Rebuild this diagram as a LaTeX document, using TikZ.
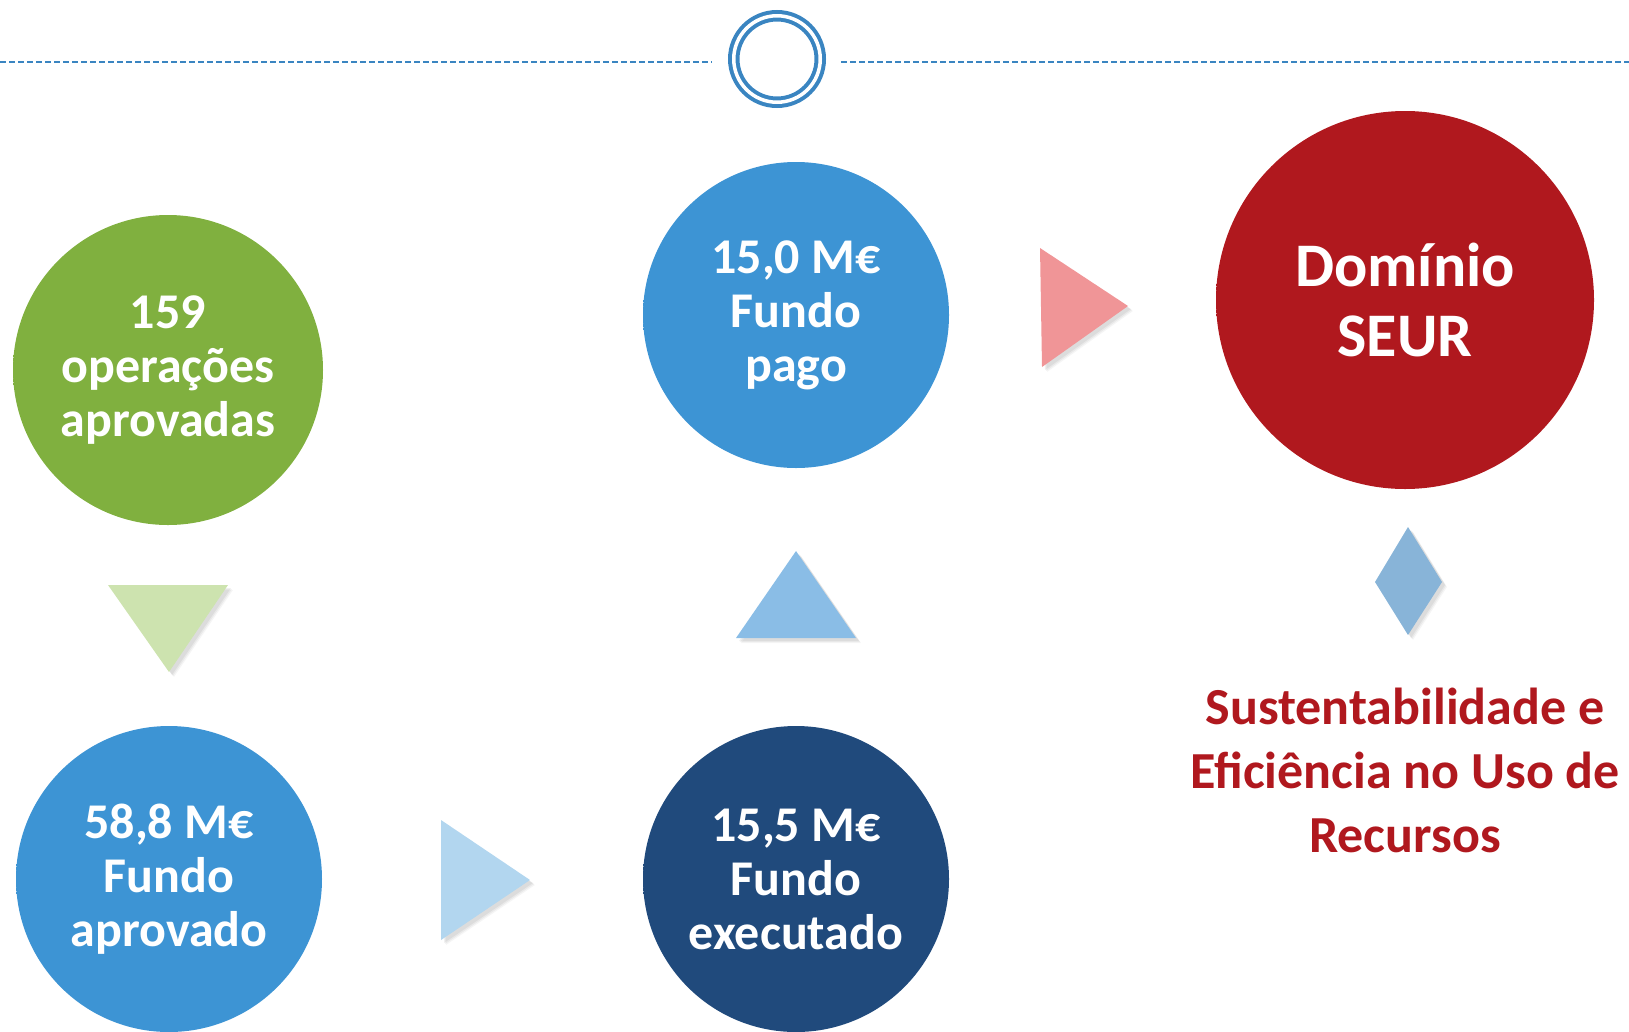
\documentclass[tikz,border=0pt]{standalone}
\usepackage{fontspec}
\setmainfont{Carlito}
\usetikzlibrary{shadows}

\definecolor{gruen}{HTML}{80B03F}
\definecolor{blau}{HTML}{3D94D4}
\definecolor{dunkelblau}{HTML}{204A7C}
\definecolor{rot}{HTML}{B0181E}
\definecolor{rosa}{HTML}{F09597}
\definecolor{hellblau}{HTML}{B2D6EF}
\definecolor{mittelblau}{HTML}{8ABDE6}
\definecolor{rautenblau}{HTML}{88B4D8}
\definecolor{hellgruen}{HTML}{CDE3AF}
\definecolor{linienblau}{HTML}{3A85C1}
\colorlet{randinnen}{blau}
\colorlet{randaussen}{blau}

\pgfdeclareradialshading[randinnen,randaussen]{rand}{\pgfpointorigin}{%
  color(0bp)=(randinnen); color(45bp)=(randinnen); color(50bp)=(randaussen)}

\tikzset{
  kreis/.style={circle, inner sep=0pt, minimum size=306pt, text=white, align=center,
    font=\bfseries\fontsize{50}{54}\selectfont,
    /utils/exec={\colorlet{randinnen}{#1}\colorlet{randaussen}{#1!65!black}},
    shading=rand},
  dreieck/.style={fill=#1,
    drop shadow={shadow xshift=5pt, shadow yshift=-5pt, opacity=0.08},
    drop shadow={shadow xshift=4pt, shadow yshift=-4pt, opacity=0.1},
    drop shadow={shadow xshift=3pt, shadow yshift=-3pt, opacity=0.12}},
  kopf/.style={linienblau, line width=1.5pt, dash pattern=on 6pt off 3pt}
}

\begin{document}
\begin{tikzpicture}[x=1pt,y=-1pt]
    \useasboundingbox (0,0) rectangle (1629,1031);

    % Kopfzeile mit Ring
    \node[circle, draw=linienblau, line width=4pt, double=white, double distance=3.5pt,
          minimum size=86.5pt, inner sep=0pt] (ring) at (777,59) {};
    \coordinate (L) at (0,62);
    \coordinate (R) at (1629,62);
    \draw[kopf] (L) -- (712,62);
    \draw[kopf] (841,62) -- (R);

    % Kreise
    \node[kreis=gruen, minimum size=310pt] (ops) at (168,370) {159\\operações\\aprovadas};
    \node[kreis=blau] (aprov) at (169,879) {58,8 M€\\Fundo\\aprovado};
    \node[kreis=dunkelblau] (exec) at (796,879) {15,5 M€\\Fundo\\executado};
    \node[kreis=blau] (pago) at (796,315) {15,0 M€\\Fundo\\pago};
    \node[kreis=rot, minimum size=378pt, font=\bfseries\fontsize{62}{70}\selectfont] (seur) at (1405,300) {Domínio\\SEUR};

    % Pfeile
    \coordinate (A1) at (108,585);
    \coordinate (A2) at (228,585);
    \coordinate (A3) at (169,672);
    \fill[dreieck=hellgruen] (A1) -- (A2) -- (A3) -- cycle;

    \coordinate (B1) at (441,820);
    \coordinate (B2) at (441,940);
    \coordinate (B3) at (530,880);
    \fill[dreieck=hellblau] (B1) -- (B2) -- (B3) -- cycle;

    \coordinate (C1) at (796,551);
    \coordinate (C2) at (736,638);
    \coordinate (C3) at (856,638);
    \fill[dreieck=mittelblau] (C1) -- (C2) -- (C3) -- cycle;

    \coordinate (D1) at (1040,248);
    \coordinate (D2) at (1042,367);
    \coordinate (D3) at (1128,306);
    \fill[dreieck=rosa] (D1) -- (D2) -- (D3) -- cycle;

    % Raute
    \coordinate (E1) at (1408,527);
    \coordinate (E2) at (1442,582);
    \coordinate (E3) at (1408,635);
    \coordinate (E4) at (1375,582);
    \fill[dreieck=rautenblau] (E1) -- (E2) -- (E3) -- (E4) -- cycle;

    % Beschriftung
    \node[text=rot, align=center, font=\bfseries\fontsize{52}{64}\selectfont] (ziel) at (1405,770)
        {Sustentabilidade e\\Eficiência no Uso de\\Recursos};
\end{tikzpicture}
\end{document}
